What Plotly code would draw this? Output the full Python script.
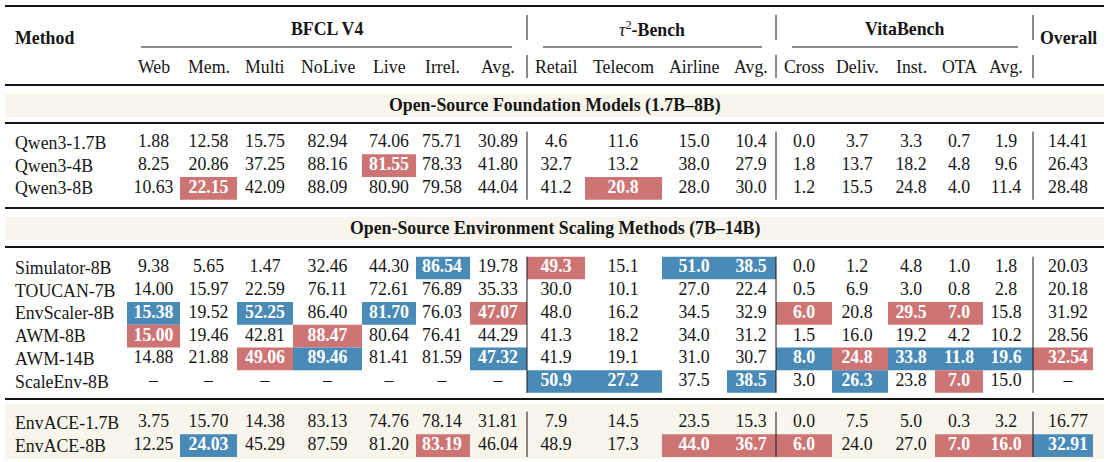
import plotly.graph_objects as go

# column headers
bfcl_cols = ["Web", "Mem.", "Multi", "NoLive", "Live", "Irrel.", "Avg."]
tau_cols = ["Retail", "Telecom", "Airline", "Avg."]
vita_cols = ["Cross", "Deliv.", "Inst.", "OTA", "Avg."]
columns = bfcl_cols + tau_cols + vita_cols + ["Overall"]

sections = [
    "Open-Source Foundation Models (1.7B–8B)",
    "Open-Source Environment Scaling Methods (7B–14B)",
    None,
]

# rows, one list per method (BFCL V4 | tau2-Bench | VitaBench | Overall)
foundation_methods = ["Qwen3-1.7B", "Qwen3-4B", "Qwen3-8B"]
scaling_methods = ["Simulator-8B", "TOUCAN-7B", "EnvScaler-8B", "AWM-8B", "AWM-14B", "ScaleEnv-8B"]
ours_methods = ["EnvACE-1.7B", "EnvACE-8B"]

qwen3_1_7b = ["1.88", "12.58", "15.75", "82.94", "74.06", "75.71", "30.89", "4.6", "11.6", "15.0", "10.4",
              "0.0", "3.7", "3.3", "0.7", "1.9", "14.41"]
qwen3_4b = ["8.25", "20.86", "37.25", "88.16", "81.55", "78.33", "41.80", "32.7", "13.2", "38.0", "27.9",
            "1.8", "13.7", "18.2", "4.8", "9.6", "26.43"]
qwen3_8b = ["10.63", "22.15", "42.09", "88.09", "80.90", "79.58", "44.04", "41.2", "20.8", "28.0", "30.0",
            "1.2", "15.5", "24.8", "4.0", "11.4", "28.48"]
simulator_8b = ["9.38", "5.65", "1.47", "32.46", "44.30", "86.54", "19.78", "49.3", "15.1", "51.0", "38.5",
                "0.0", "1.2", "4.8", "1.0", "1.8", "20.03"]
toucan_7b = ["14.00", "15.97", "22.59", "76.11", "72.61", "76.89", "35.33", "30.0", "10.1", "27.0", "22.4",
             "0.5", "6.9", "3.0", "0.8", "2.8", "20.18"]
envscaler_8b = ["15.38", "19.52", "52.25", "86.40", "81.70", "76.03", "47.07", "48.0", "16.2", "34.5", "32.9",
                "6.0", "20.8", "29.5", "7.0", "15.8", "31.92"]
awm_8b = ["15.00", "19.46", "42.81", "88.47", "80.64", "76.41", "44.29", "41.3", "18.2", "34.0", "31.2",
          "1.5", "16.0", "19.2", "4.2", "10.2", "28.56"]
awm_14b = ["14.88", "21.88", "49.06", "89.46", "81.41", "81.59", "47.32", "41.9", "19.1", "31.0", "30.7",
           "8.0", "24.8", "33.8", "11.8", "19.6", "32.54"]
scaleenv_8b = ["–", "–", "–", "–", "–", "–", "–", "50.9", "27.2", "37.5", "38.5",
               "3.0", "26.3", "23.8", "7.0", "15.0", "–"]
envace_1_7b = ["3.75", "15.70", "14.38", "83.13", "74.76", "78.14", "31.81", "7.9", "14.5", "23.5", "15.3",
               "0.0", "7.5", "5.0", "0.3", "3.2", "16.77"]
envace_8b = ["12.25", "24.03", "45.29", "87.59", "81.20", "83.19", "46.04", "48.9", "17.3", "44.0", "36.7",
             "6.0", "24.0", "27.0", "7.0", "16.0", "32.91"]

# highlighted cells: (row, column index)
blue_cells = [("Simulator-8B", 5), ("Simulator-8B", 9), ("Simulator-8B", 10),
              ("EnvScaler-8B", 0), ("EnvScaler-8B", 2), ("EnvScaler-8B", 4),
              ("AWM-14B", 3), ("AWM-14B", 6), ("AWM-14B", 11), ("AWM-14B", 13), ("AWM-14B", 14), ("AWM-14B", 15),
              ("ScaleEnv-8B", 7), ("ScaleEnv-8B", 8), ("ScaleEnv-8B", 10), ("ScaleEnv-8B", 12),
              ("EnvACE-8B", 1), ("EnvACE-8B", 16)]
red_cells = [("Qwen3-4B", 4), ("Qwen3-8B", 1), ("Qwen3-8B", 8),
             ("Simulator-8B", 7),
             ("EnvScaler-8B", 6), ("EnvScaler-8B", 11), ("EnvScaler-8B", 13), ("EnvScaler-8B", 14),
             ("AWM-8B", 0), ("AWM-8B", 3),
             ("AWM-14B", 2), ("AWM-14B", 12), ("AWM-14B", 16),
             ("ScaleEnv-8B", 14),
             ("EnvACE-8B", 5), ("EnvACE-8B", 9), ("EnvACE-8B", 10), ("EnvACE-8B", 11), ("EnvACE-8B", 14),
             ("EnvACE-8B", 15)]

row_values = {
    "Qwen3-1.7B": qwen3_1_7b, "Qwen3-4B": qwen3_4b, "Qwen3-8B": qwen3_8b,
    "Simulator-8B": simulator_8b, "TOUCAN-7B": toucan_7b, "EnvScaler-8B": envscaler_8b,
    "AWM-8B": awm_8b, "AWM-14B": awm_14b, "ScaleEnv-8B": scaleenv_8b,
    "EnvACE-1.7B": envace_1_7b, "EnvACE-8B": envace_8b,
}

# layout (pixel-like axis units)
FONT = "Liberation Serif"
FS = 17.8
INK = "#161616"
BLUE = "#4a8ab6"
RED = "#cd7575"
BAND = "#f8f6ec"
col_x = [153.5, 208.5, 265, 327.5, 389, 442, 498, 556, 623, 694, 751, 804, 857, 911, 959, 1006, 1068]
col_edges = [127, 180, 237, 293, 362, 416, 470, 527, 585, 662, 727, 776, 832, 888, 935, 983, 1033, 1093]
group_seps = [527, 776, 1033]
row_h = 22.7
section_rows = [foundation_methods, scaling_methods, ours_methods]
section_start = [143, 268, 423]
LEFT, RIGHT = 5, 1104

fig = go.Figure()
shapes = []
annotations = []


def hline(y, w, x0=LEFT, x1=RIGHT):
    shapes.append(dict(type="line", xref="x", yref="y", x0=x0, x1=x1, y0=y, y1=y,
                       line=dict(color=INK, width=w)))


def vline(x, y0, y1, w=1):
    shapes.append(dict(type="line", xref="x", yref="y", x0=x, x1=x, y0=y0, y1=y1,
                       line=dict(color=INK, width=w)))


def label(x, y, text, anchor="center", bold=False):
    annotations.append(dict(x=x, y=y, xref="x", yref="y", text=f"<b>{text}</b>" if bold else text,
                            showarrow=False, xanchor=anchor, yanchor="middle",
                            font=dict(family=FONT, size=FS, color=INK)))


# cream bands
shapes.append(dict(type="rect", xref="x", yref="y", x0=LEFT, x1=RIGHT, y0=94, y1=117,
                   fillcolor=BAND, line_width=0, layer="below"))
shapes.append(dict(type="rect", xref="x", yref="y", x0=LEFT, x1=RIGHT, y0=217, y1=240,
                   fillcolor=BAND, line_width=0, layer="below"))
shapes.append(dict(type="rect", xref="x", yref="y", x0=LEFT, x1=RIGHT, y0=404, y1=459,
                   fillcolor=BAND, line_width=0, layer="below"))
label(555, 105.5, sections[0], bold=True)
label(555, 228.5, sections[1], bold=True)

# rules
hline(6, 2.2)
hline(85, 1.8)
for y in [123, 208, 247, 399]:
    hline(y, 2.2)

# header
label(13, 38, "Method", anchor="left", bold=True)
label(327, 29, "BFCL V4", bold=True)
label(652, 29, "<i>τ</i><sup>2</sup><b>-Bench</b>")
label(904, 29, "VitaBench", bold=True)
label(1068, 38, "Overall", bold=True)
for x0, x1 in [(141, 512), (543, 762), (792, 1018)]:
    hline(47, 1.1, x0, x1)
for x in group_seps:
    vline(x, 15, 40)
    vline(x, 55, 78)
for x, c in zip(col_x[:-1], columns[:-1]):
    label(x, 67, c)

# body
blue_set = set(blue_cells)
red_set = set(red_cells)
for rows, y_start in zip(section_rows, section_start):
    ys = [y_start + i * row_h for i in range(len(rows))]
    for x in group_seps:
        vline(x, ys[0] - row_h / 2, ys[-1] + row_h / 2)
    for name, y in zip(rows, ys):
        label(13, y, name, anchor="left")
        vals = row_values[name]
        texts, colors = [], []
        for j, v in enumerate(vals):
            fill = BLUE if (name, j) in blue_set else RED if (name, j) in red_set else None
            if fill:
                shapes.append(dict(type="rect", xref="x", yref="y", x0=col_edges[j], x1=col_edges[j + 1],
                                   y0=y - row_h / 2, y1=y + row_h / 2, fillcolor=fill,
                                   line_width=0, layer="below"))
                texts.append(f"<b>{v}</b>")
                colors.append("white")
            else:
                texts.append(v)
                colors.append(INK)
        fig.add_trace(go.Scatter(x=col_x, y=[y] * len(vals), mode="text", text=texts,
                                 textposition="middle center",
                                 textfont=dict(family=FONT, size=FS, color=colors),
                                 hoverinfo="skip", showlegend=False))

fig.update_layout(
    width=1106, height=462,
    margin=dict(l=0, r=0, t=0, b=0),
    paper_bgcolor="white", plot_bgcolor="white",
    xaxis=dict(range=[0, 1106], visible=False, fixedrange=True),
    yaxis=dict(range=[462, 0], visible=False, fixedrange=True),
    shapes=shapes, annotations=annotations,
    font=dict(family=FONT, size=FS, color=INK),
)

# drop the page's default body margin so the table sits at the window origin
fig.write_html("out.html", config={"displayModeBar": False},
               post_script="document.body.style.margin='0';document.body.style.overflow='hidden';")
